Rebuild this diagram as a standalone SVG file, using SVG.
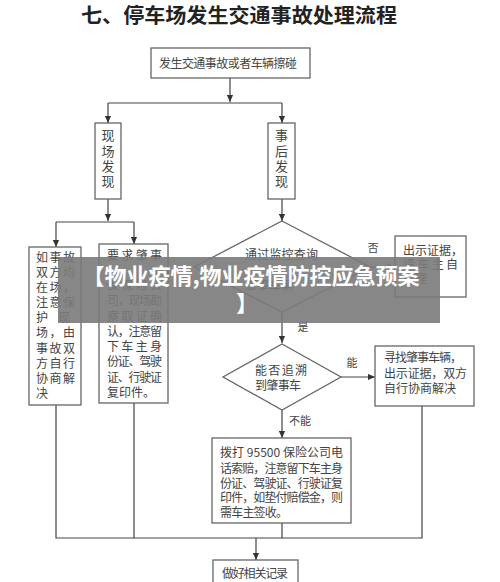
<svg xmlns="http://www.w3.org/2000/svg" width="500" height="582" viewBox="0 0 500 582">
<style>
  .box { fill: #ffffff; stroke: #666666; stroke-width: 1.3; }
  .ln { fill: none; stroke: #444444; stroke-width: 1.2; }
  .t { font-family: "Noto Sans CJK SC", "Liberation Serif", serif; font-size: 12px; fill: #444444; }
  .lbl { font-family: "Noto Sans CJK SC", "Liberation Serif", serif; font-size: 11px; fill: #444444; text-anchor: middle; }
  .title { font-family: "Noto Sans CJK SC", "Liberation Sans", sans-serif; font-size: 20px; font-weight: bold; fill: #222222; }
  .ban { font-family: "Noto Sans CJK SC", "Liberation Sans", sans-serif; font-size: 22px; font-weight: bold; fill: #ffffff; }
</style>
<defs>
  <marker id="arr" viewBox="0 0 8 8" refX="8" refY="4" markerWidth="7" markerHeight="7" markerUnits="userSpaceOnUse" orient="auto">
    <path d="M0,0.5 L8,4 L0,7.5 Z" fill="#333333"/>
  </marker>
</defs>
<rect width="500" height="582" fill="#ffffff"/>
<text class="title" x="81" y="23" textLength="316" lengthAdjust="spacingAndGlyphs">七、停车场发生交通事故处理流程</text>

<g id="connectors">
  <line class="ln" x1="230" y1="78" x2="230" y2="102" marker-end="url(#arr)"/>
  <line class="ln" x1="108" y1="103" x2="282" y2="103"/>
  <line class="ln" x1="108" y1="103" x2="108" y2="123" marker-end="url(#arr)"/>
  <line class="ln" x1="282" y1="103" x2="282" y2="123" marker-end="url(#arr)"/>
  <line class="ln" x1="108" y1="199" x2="108" y2="221" marker-end="url(#arr)"/>
  <line class="ln" x1="56" y1="222" x2="134" y2="222"/>
  <line class="ln" x1="56" y1="222" x2="56" y2="247" marker-end="url(#arr)"/>
  <line class="ln" x1="134" y1="222" x2="134" y2="244" marker-end="url(#arr)"/>
  <line class="ln" x1="282" y1="199" x2="282" y2="221" marker-end="url(#arr)"/>
  <line class="ln" x1="370" y1="267" x2="395" y2="267" marker-end="url(#arr)"/>
  <line class="ln" x1="282" y1="312" x2="282" y2="343" marker-end="url(#arr)"/>
  <line class="ln" x1="341" y1="377" x2="375" y2="377" marker-end="url(#arr)"/>
  <line class="ln" x1="282" y1="410" x2="282" y2="438" marker-end="url(#arr)"/>
  <polyline class="ln" points="56,405 56,538 422,538 422,406"/>
  <line class="ln" x1="134" y1="403" x2="134" y2="538"/>
  <line class="ln" x1="282" y1="523" x2="282" y2="538"/>
  <line class="ln" x1="256" y1="538" x2="256" y2="560" marker-end="url(#arr)"/>
  <text class="lbl" x="373" y="252">否</text>
  <text class="lbl" x="303" y="331">是</text>
  <text class="lbl" x="352" y="367">能</text>
  <text class="lbl" x="300" y="425">不能</text>
</g>

<g id="start">
  <rect class="box" x="151" y="48" width="159" height="30"/>
  <text class="t" x="159" y="68" textLength="138" lengthAdjust="spacing">发生交通事故或者车辆擦碰</text>
</g>

<g id="onsite">
  <rect class="box" x="95" y="123" width="26" height="76"/>
  <text class="t" x="108" text-anchor="middle" style="font-size:13px"><tspan x="108" y="140">现</tspan><tspan x="108" y="156">场</tspan><tspan x="108" y="171">发</tspan><tspan x="108" y="186">现</tspan></text>
</g>

<g id="after">
  <rect class="box" x="268" y="123" width="27" height="76"/>
  <text class="t" x="281.5" text-anchor="middle" style="font-size:13px"><tspan x="281.5" y="140">事</tspan><tspan x="281.5" y="156">后</tspan><tspan x="281.5" y="171">发</tspan><tspan x="281.5" y="186">现</tspan></text>
</g>

<g id="both-present">
  <rect class="box" x="29" y="247" width="52" height="158"/>
  <text class="t" x="36" y="262" textLength="39" lengthAdjust="spacing">如事故</text>
  <text class="t" x="36" y="277" textLength="39" lengthAdjust="spacing">双方均</text>
  <text class="t" x="36" y="292" textLength="39" lengthAdjust="spacing">在场，</text>
  <text class="t" x="36" y="307" textLength="39" lengthAdjust="spacing">注意保</text>
  <text class="t" x="36" y="322" textLength="34" lengthAdjust="spacing">护现</text>
  <text class="t" x="36" y="337" textLength="39" lengthAdjust="spacing">场，由</text>
  <text class="t" x="36" y="353" textLength="39" lengthAdjust="spacing">事故双</text>
  <text class="t" x="36" y="368" textLength="39" lengthAdjust="spacing">方自行</text>
  <text class="t" x="36" y="383" textLength="39" lengthAdjust="spacing">协商解</text>
  <text class="t" x="36" y="398">决</text>
</g>

<g id="insurer-onsite">
  <rect class="box" x="99" y="244" width="69" height="159"/>
  <text class="t" x="107" y="260" textLength="55" lengthAdjust="spacing">要求肇事</text>
  <text class="t" x="107" y="290" textLength="55" lengthAdjust="spacing">保保险公</text>
  <text class="t" x="107" y="305" textLength="55" lengthAdjust="spacing">司，现场勘</text>
  <text class="t" x="107" y="321" textLength="55" lengthAdjust="spacing">察取证确</text>
  <text class="t" x="107" y="336" textLength="55" lengthAdjust="spacing">认，注意留</text>
  <text class="t" x="107" y="351" textLength="55" lengthAdjust="spacing">下车主身</text>
  <text class="t" x="107" y="366" textLength="55" lengthAdjust="spacing">份证、驾驶</text>
  <text class="t" x="107" y="382" textLength="55" lengthAdjust="spacing">证、行驶证</text>
  <text class="t" x="107" y="397">复印件。</text>
</g>

<g id="monitor-check">
  <polygon class="box" points="282,221 370,267 282,312 194,267"/>
  <text class="t" x="245" y="259" textLength="73" lengthAdjust="spacing">通过监控查询</text>
  <text class="t" x="245" y="290" textLength="48" lengthAdjust="spacing">肇事车辆</text>
</g>

<g id="owner-self">
  <rect class="box" x="395" y="236" width="71" height="61"/>
  <text class="t" x="403" y="255">出示证据，</text>
  <text class="t" x="403" y="269" textLength="55" lengthAdjust="spacing">请车主自</text>
  <text class="t" x="403" y="283">处理</text>
</g>

<g id="trace">
  <polygon class="box" points="282,344 341,377 282,410 223,377"/>
  <text class="t" x="255" y="375" textLength="52" lengthAdjust="spacing">能否追溯</text>
  <text class="t" x="255" y="390" textLength="46" lengthAdjust="spacing">到肇事车</text>
</g>

<g id="find-vehicle">
  <rect class="box" x="375" y="346" width="99" height="60"/>
  <text class="t" x="384" y="362" textLength="78" lengthAdjust="spacing">寻找肇事车辆，</text>
  <text class="t" x="384" y="378" textLength="83" lengthAdjust="spacing">出示证据，双方</text>
  <text class="t" x="384" y="393" textLength="72" lengthAdjust="spacing">自行协商解决</text>
</g>

<g id="call-insurer">
  <rect class="box" x="212" y="438" width="139" height="85"/>
  <text class="t" x="220" y="457" textLength="123" lengthAdjust="spacing">拨打 95500 保险公司电</text>
  <text class="t" x="220" y="473" textLength="123" lengthAdjust="spacing">话索赔，注意留下车主身</text>
  <text class="t" x="220" y="488" textLength="123" lengthAdjust="spacing">份证、驾驶证、行驶证复</text>
  <text class="t" x="220" y="502" textLength="123" lengthAdjust="spacing">印件，如垫付赔偿金，则</text>
  <text class="t" x="220" y="517" textLength="68" lengthAdjust="spacing">需车主签收。</text>
</g>

<g id="record">
  <rect class="box" x="213" y="560" width="85" height="30"/>
  <text class="t" x="222" y="578" textLength="66" lengthAdjust="spacing">做好相关记录</text>
</g>

<g id="banner">
  <rect x="58" y="257" width="382" height="66" fill="#7a7a7a" fill-opacity="0.9"/>
  <text class="ban" x="251" y="284" text-anchor="middle">【物业疫情,物业疫情防控应急预案</text>
  <text class="ban" x="236" y="311">】</text>
</g>
</svg>
